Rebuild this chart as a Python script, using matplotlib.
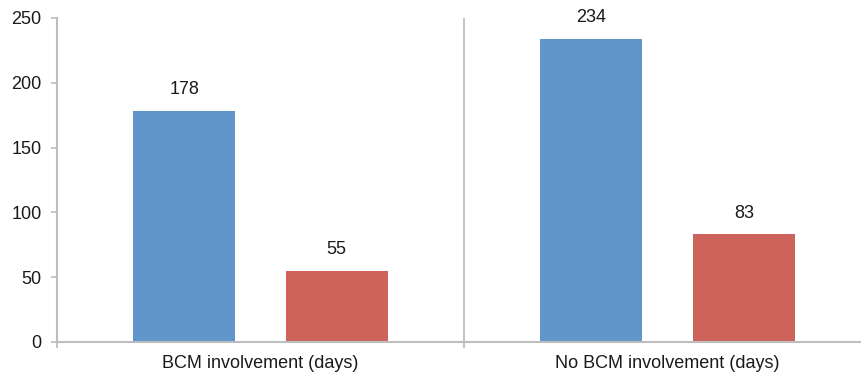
import matplotlib
matplotlib.use("Agg")
import matplotlib.pyplot as plt
import numpy as np

plt.rcParams['font.family'] = ['Liberation Sans', 'DejaVu Sans']

categories = ["BCM involvement (days)", "No BCM involvement (days)"]
series_a = [178, 234]
series_b = [55, 83]

C_BLUE = "#6196CA"
C_RED = "#CD635B"
C_AXIS = "#BDBDBD"
C_TEXT = "#1a1a1a"

fig = plt.figure(figsize=(8.62, 3.76), dpi=100)
ax = fig.add_axes([57 / 862, 34 / 376, 1 - 57 / 862, 324 / 376])

x = np.arange(len(categories))
w = 0.25
off = 0.1875
bars_a = ax.bar(x - off, series_a, w, color=C_BLUE)
bars_b = ax.bar(x + off, series_b, w, color=C_RED)

# value labels above each bar
for rects, vals in ((bars_a, series_a), (bars_b, series_b)):
    for r, v in zip(rects, vals):
        ax.text(r.get_x() + r.get_width() / 2, v + 16.5, f"{v}",
                ha="center", va="center", fontsize=13, color=C_TEXT)

ax.set_ylim(0, 250)
ax.set_xlim(-0.5, 1.478)
ax.set_yticks(range(0, 251, 50))
ax.tick_params(axis="y", labelsize=13, length=4, width=1.2, color=C_AXIS,
               labelcolor=C_TEXT, pad=7)
ax.set_xticks(x)
ax.set_xticklabels(categories, fontsize=13, color=C_TEXT)
ax.tick_params(axis="x", length=0, pad=9)

# group boundary marks
ax.axvline(0.5, color=C_AXIS, linewidth=1.3)
for xb in (-0.5, 0.5):
    ax.plot([xb, xb], [0, -4], color=C_AXIS, linewidth=1.3, clip_on=False)

for s in ("top", "right"):
    ax.spines[s].set_visible(False)
for s in ("left", "bottom"):
    ax.spines[s].set_color(C_AXIS)
    ax.spines[s].set_linewidth(1.5)

fig.savefig("out.png", dpi=100, facecolor="white")
